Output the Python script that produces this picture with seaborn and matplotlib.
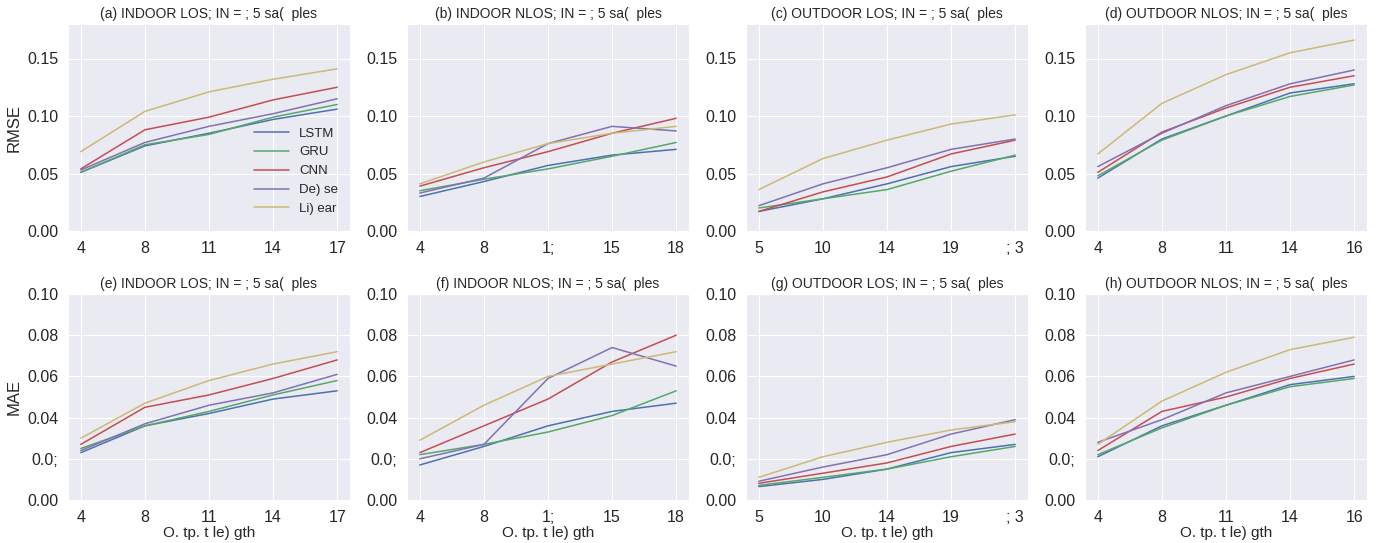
import numpy as np
import pandas as pd
import matplotlib
matplotlib.use('Agg')
import matplotlib.pyplot as plt
import seaborn as sns

# models and colours (old seaborn "deep" palette)
models = ['LSTM', 'GRU', 'CNN', 'De) se', 'Li) ear']
colors = ['#4C72B0', '#55A868', '#C44E52', '#8172B2', '#CCB974']

# titles and x tick labels per column
titles_top = ['(a) INDOOR LOS; IN = ; 5 sa(  ples', '(b) INDOOR NLOS; IN = ; 5 sa(  ples',
              '(c) OUTDOOR LOS; IN = ; 5 sa(  ples', '(d) OUTDOOR NLOS; IN = ; 5 sa(  ples']
titles_bottom = ['(e) INDOOR LOS; IN = ; 5 sa(  ples', '(f) INDOOR NLOS; IN = ; 5 sa(  ples',
                 '(g) OUTDOOR LOS; IN = ; 5 sa(  ples', '(h) OUTDOOR NLOS; IN = ; 5 sa(  ples']
xticks_indoor_los = ['4', '8', '11', '14', '17']
xticks_indoor_nlos = ['4', '8', '1;', '15', '18']
xticks_outdoor_los = ['5', '10', '14', '19', '; 3']
xticks_outdoor_nlos = ['4', '8', '11', '14', '16']

# RMSE, rows: LSTM, GRU, CNN, Dense, Linear
rmse_indoor_los = [[0.051, 0.074, 0.085, 0.097, 0.106],
                   [0.051, 0.075, 0.084, 0.099, 0.110],
                   [0.054, 0.088, 0.099, 0.114, 0.125],
                   [0.053, 0.077, 0.091, 0.102, 0.115],
                   [0.069, 0.104, 0.121, 0.132, 0.141]]
rmse_indoor_nlos = [[0.030, 0.043, 0.057, 0.066, 0.071],
                    [0.035, 0.045, 0.054, 0.065, 0.077],
                    [0.039, 0.055, 0.069, 0.085, 0.098],
                    [0.033, 0.046, 0.076, 0.091, 0.087],
                    [0.041, 0.060, 0.076, 0.085, 0.091]]
rmse_outdoor_los = [[0.017, 0.028, 0.041, 0.056, 0.065],
                    [0.020, 0.028, 0.036, 0.052, 0.066],
                    [0.017, 0.034, 0.047, 0.067, 0.079],
                    [0.022, 0.041, 0.055, 0.071, 0.080],
                    [0.036, 0.063, 0.079, 0.093, 0.101]]
rmse_outdoor_nlos = [[0.046, 0.080, 0.100, 0.120, 0.128],
                     [0.048, 0.079, 0.100, 0.117, 0.127],
                     [0.051, 0.086, 0.107, 0.125, 0.135],
                     [0.056, 0.085, 0.109, 0.128, 0.140],
                     [0.067, 0.111, 0.136, 0.155, 0.166]]

# MAE
mae_indoor_los = [[0.023, 0.036, 0.042, 0.049, 0.053],
                  [0.025, 0.036, 0.043, 0.051, 0.058],
                  [0.027, 0.045, 0.051, 0.059, 0.068],
                  [0.024, 0.037, 0.046, 0.052, 0.061],
                  [0.030, 0.047, 0.058, 0.066, 0.072]]
mae_indoor_nlos = [[0.017, 0.026, 0.036, 0.043, 0.047],
                   [0.022, 0.027, 0.033, 0.041, 0.053],
                   [0.023, 0.036, 0.049, 0.067, 0.080],
                   [0.020, 0.027, 0.059, 0.074, 0.065],
                   [0.029, 0.046, 0.060, 0.066, 0.072]]
mae_outdoor_los = [[0.0065, 0.010, 0.015, 0.023, 0.027],
                   [0.0071, 0.011, 0.015, 0.021, 0.026],
                   [0.0081, 0.013, 0.018, 0.026, 0.032],
                   [0.0091, 0.016, 0.022, 0.032, 0.039],
                   [0.011, 0.021, 0.028, 0.034, 0.038]]
mae_outdoor_nlos = [[0.021, 0.036, 0.046, 0.056, 0.060],
                    [0.022, 0.035, 0.046, 0.055, 0.059],
                    [0.024, 0.043, 0.050, 0.059, 0.066],
                    [0.028, 0.039, 0.052, 0.060, 0.068],
                    [0.027, 0.048, 0.062, 0.073, 0.079]]

sns.set_style('darkgrid')
plt.rcParams['font.family'] = ['Liberation Sans', 'DejaVu Sans']

fig = plt.figure(figsize=(13.79, 5.43), dpi=100)
lefts = [68, 407, 746, 1085]
W, H = 1379, 543


def draw(ax, values, xlabels, title, ylim, yticks, yticklabels, show_legend=False):
    rows = []
    for m, vals in zip(models, values):
        for i, v in enumerate(vals):
            rows.append({'pos': i, 'value': v, 'model': m})
    df = pd.DataFrame(rows)
    sns.lineplot(data=df, x='pos', y='value', hue='model', hue_order=models,
                 palette=dict(zip(models, colors)), linewidth=1.1, ax=ax, legend=show_legend)
    ax.set_xticks(range(len(xlabels)))
    ax.set_xticklabels(xlabels, fontsize=11.5)
    ax.set_ylim(*ylim)
    ax.set_yticks(yticks)
    ax.set_yticklabels(yticklabels, fontsize=11.5)
    ax.set_title(title, fontsize=10, pad=4)
    ax.set_xlabel('')
    ax.set_ylabel('')
    if show_legend:
        ax.legend(loc='lower right', frameon=False, fontsize=9.5, handlelength=2.6,
                  bbox_to_anchor=(1.0, 0.02))


top_data = [rmse_indoor_los, rmse_indoor_nlos, rmse_outdoor_los, rmse_outdoor_nlos]
bot_data = [mae_indoor_los, mae_indoor_nlos, mae_outdoor_los, mae_outdoor_nlos]
xlabs = [xticks_indoor_los, xticks_indoor_nlos, xticks_outdoor_los, xticks_outdoor_nlos]

for c in range(4):
    ax = fig.add_axes([lefts[c] / W, (H - 231) / H, 282 / W, 207 / H])
    draw(ax, top_data[c], xlabs[c], titles_top[c], (0, 0.18),
         [0, 0.05, 0.10, 0.15], ['0.00', '0.05', '0.10', '0.15'], show_legend=(c == 0))
    if c == 0:
        ax.set_ylabel('RMSE', fontsize=12)

    ax = fig.add_axes([lefts[c] / W, (H - 500) / H, 282 / W, 206 / H])
    draw(ax, bot_data[c], xlabs[c], titles_bottom[c], (0, 0.1),
         [0, 0.02, 0.04, 0.06, 0.08, 0.10], ['0.00', '0.0;', '0.04', '0.06', '0.08', '0.10'])
    ax.set_xlabel('O. tp. t le) gth', fontsize=11, labelpad=1)
    if c == 0:
        ax.set_ylabel('MAE', fontsize=12)

plt.savefig('out.png', dpi=100)
